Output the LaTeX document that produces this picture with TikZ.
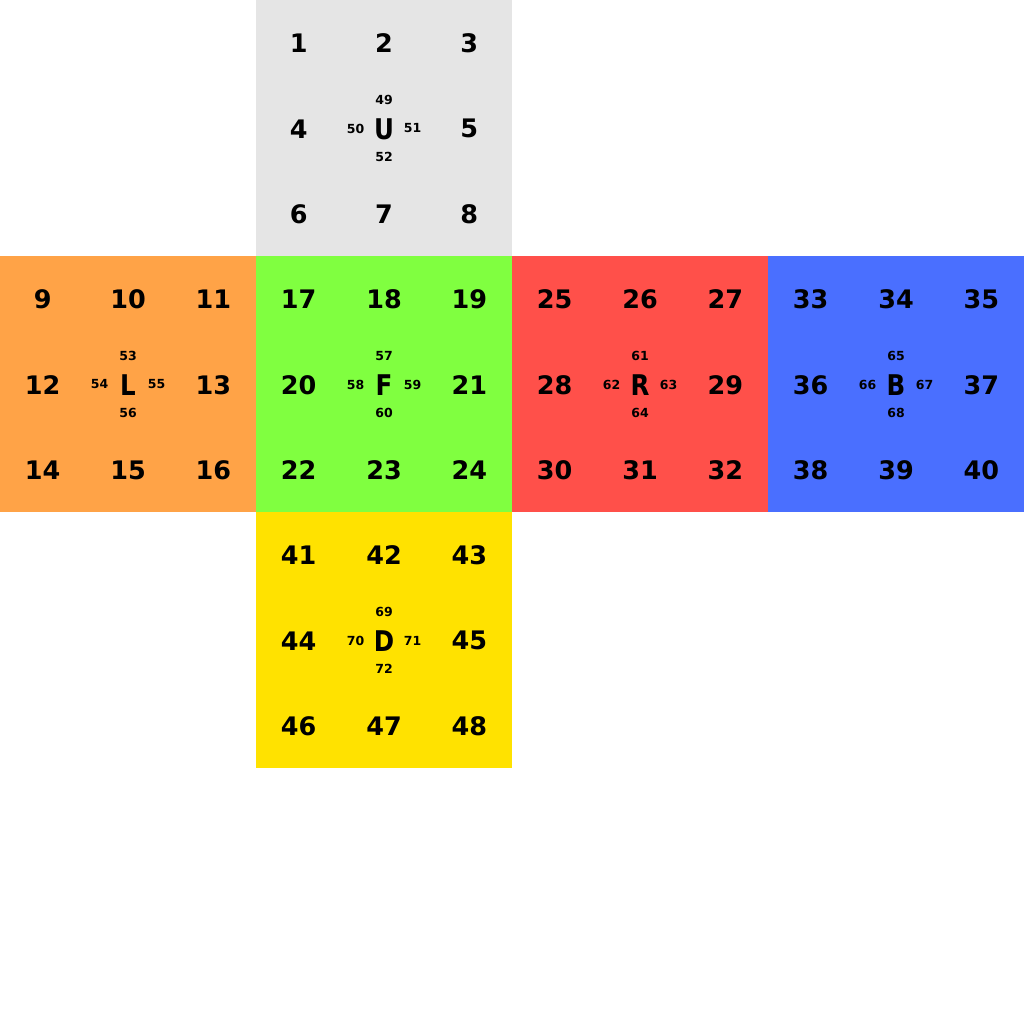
\documentclass[tikz,border=0pt]{standalone}
\usepackage{fontspec}
\usepackage{graphicx}
\setmainfont{DejaVu Sans}
\begin{document}
\begin{tikzpicture}[x=1pt,y=-1pt,
  big/.style={inner sep=0pt,font=\fontsize{25.5}{25.5}\selectfont\bfseries},
  small/.style={inner sep=0pt,font=\fontsize{12.5}{12.5}\selectfont\bfseries},
  facelabel/.style={inner sep=0pt,font=\fontsize{28.5}{28.5}\selectfont\bfseries}]
\definecolor{cU}{RGB}{229,229,229}
\definecolor{cL}{RGB}{255,163,71}
\definecolor{cF}{RGB}{128,255,64}
\definecolor{cR}{RGB}{255,80,74}
\definecolor{cB}{RGB}{74,111,255}
\definecolor{cD}{RGB}{255,226,0}
\useasboundingbox (0,0) rectangle (1024,1024);
\fill[white] (0,0) rectangle (1024,1024);
% face: #1 x0, #2 y0, #3 colour, #4 letter, #5 first corner number, #6 first centre number
\newcommand{\cubeface}[6]{%
  \fill[#3] (#1,#2) rectangle ++(256,256);
  \foreach \i/\cx/\cy in {0/0/0,1/1/0,2/2/0,3/0/1,4/2/1,5/0/2,6/1/2,7/2/2}{
    \pgfmathtruncatemacro{\num}{#5+\i}
    \node[big] (n\num) at ({#1+42.667+85.333*\cx},{#2+43.5+85.333*\cy}) {\num};
  }
  \node[facelabel] (f#4) at ({#1+128},{#2+129}) {\scalebox{0.86}[1]{#4}};
  \pgfmathtruncatemacro{\na}{#6}\pgfmathtruncatemacro{\nb}{#6+1}%
  \pgfmathtruncatemacro{\nc}{#6+2}\pgfmathtruncatemacro{\nd}{#6+3}%
  \node[small] (m\na) at ({#1+128},{#2+100}) {\na};
  \node[small] (m\nb) at ({#1+99.5},{#2+128.5}) {\nb};
  \node[small] (m\nc) at ({#1+156.5},{#2+128.5}) {\nc};
  \node[small] (m\nd) at ({#1+128},{#2+157}) {\nd};
}
\cubeface{256}{0}{cU}{U}{1}{49}
\cubeface{0}{256}{cL}{L}{9}{53}
\cubeface{256}{256}{cF}{F}{17}{57}
\cubeface{512}{256}{cR}{R}{25}{61}
\cubeface{768}{256}{cB}{B}{33}{65}
\cubeface{256}{512}{cD}{D}{41}{69}
\end{tikzpicture}
\end{document}
